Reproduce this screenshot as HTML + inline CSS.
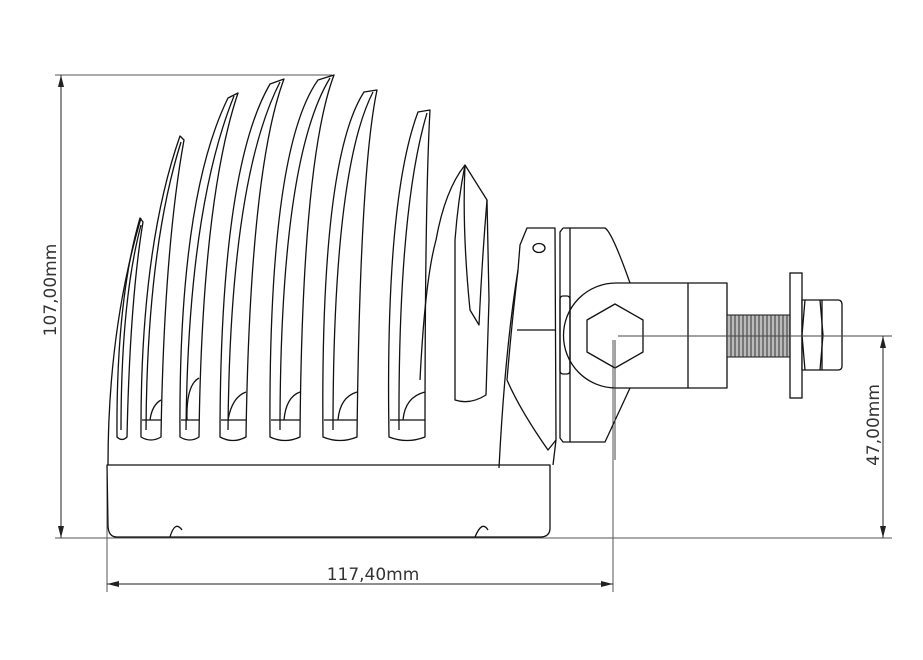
<!DOCTYPE html>
<html><head><style>
html,body{margin:0;padding:0;background:#fff;}
svg{display:block;}
text{font-family:"DejaVu Sans","Liberation Sans",sans-serif;font-size:17px;fill:#333;}
</style></head><body>
<svg width="923" height="660" viewBox="0 0 923 660" xmlns="http://www.w3.org/2000/svg">
<defs>
<marker id="ar" markerWidth="12" markerHeight="6" refX="12" refY="3" orient="auto" markerUnits="userSpaceOnUse">
<path d="M0,0 L12,3 L0,6 Z" fill="#222"/></marker>
</defs>
<g stroke="#555" stroke-width="1" fill="none">
<line x1="55" y1="75" x2="332" y2="75"/>
<line x1="55" y1="538" x2="892" y2="538"/>
<line x1="107" y1="470" x2="107" y2="592"/>
<line x1="613" y1="340" x2="613" y2="592"/>
</g>
<g stroke="#222" stroke-width="1" fill="none">
<line x1="61" y1="538" x2="61" y2="75" marker-end="url(#ar)"/>
<line x1="61" y1="75" x2="61" y2="538" marker-end="url(#ar)"/>
<line x1="613" y1="584" x2="107" y2="584" marker-end="url(#ar)"/>
<line x1="107" y1="584" x2="613" y2="584" marker-end="url(#ar)"/>
<line x1="883" y1="538" x2="883" y2="336" marker-end="url(#ar)"/>
<line x1="883" y1="336" x2="883" y2="538" marker-end="url(#ar)"/>
</g>
<text x="50" y="290" text-anchor="middle" transform="rotate(-90 50 290)" dy="6">107,00mm</text>
<text x="873" y="425" text-anchor="middle" transform="rotate(-90 873 425)" dy="6">47,00mm</text>
<text x="373" y="580" text-anchor="middle">117,40mm</text>

<g stroke="#111" stroke-width="1.3" fill="none" stroke-linejoin="round">
<!-- base -->
<path d="M107,465 L550,465 L550,528 Q550,537 540,537 L117,537 Q108,537 108,525 Z"/>
<path d="M170,537 Q175,520 182,530"/>
<path d="M475,537 Q482,520 488,530"/>
<!-- outer left curve -->
<path d="M108,465 Q108,330 141,218"/>
<!-- fins -->
<path d="M117,437 Q116,300 140,218 L143,222 Q130,300 127,437 Q122,442 117,437 Z"/>
<path d="M121,430 Q121,300 141,225"/>
<path d="M141,437 Q140,250 180,136 L184,140 Q164,250 161,437 Q151,443 141,437 Z"/>
<path d="M146,430 Q147,250 181,142"/>
<path d="M180,437 Q178,200 228,98 L238,93 Q202,200 199,437 Q190,443 180,437 Z"/>
<path d="M186,430 Q188,210 234,96"/>
<path d="M220,437 Q220,170 270,84 L284,79 Q250,170 246,437 Q233,444 220,437 Z"/>
<path d="M228,430 Q230,180 280,82"/>
<path d="M270,437 Q268,150 318,80 L334,75 Q302,160 300,437 Q285,444 270,437 Z"/>
<path d="M280,430 Q280,160 330,78"/>
<path d="M323,437 Q320,160 364,92 L377,90 Q360,170 357,437 Q340,444 323,437 Z"/>
<path d="M333,430 Q333,170 373,92"/>
<path d="M389,437 Q385,200 418,112 L430,110 Q425,200 425,437 Q407,444 389,437 Z"/>
<path d="M399,430 Q398,210 427,113"/>
<path d="M455,400 L455,240 Q458,200 465,165 L487,200 L489,300 L486,395 Q470,405 455,400 Z"/>
<path d="M465,165 Q462,230 470,310 L479,325 Q482,260 487,200"/>
<path d="M436,240 Q445,190 465,165"/>
<path d="M420,380 Q425,280 436,240"/>
<!-- fin window marks -->
<path d="M150,420 Q152,405 161,400 M187,420 Q186,385 199,378 M228,420 Q232,397 246,392 M284,420 Q286,397 300,392 M338,420 Q340,397 357,392 M403,420 Q405,397 425,392"/>
<path d="M142,420 L161,420 M181,420 L199,420 M221,420 L246,420 M271,420 L300,420 M324,420 L357,420 M390,420 L425,420"/>
<!-- right side profile -->
<path d="M507,380 Q512,320 518,270 L520,245 L527,228 L555,228 L556,440 L548,450 Q520,410 507,380"/>
<path d="M517,330 L555,330"/>
<ellipse cx="539" cy="248" rx="6" ry="4.5"/>
<path d="M499,468 Q505,350 518,270"/>
<path d="M553,465 L556,440"/>
<!-- block -->
<path d="M563,228 L605,228 Q612,232 630,283 M563,228 L560,232 L560,438 L563,442 L605,442 L630,388"/>
<path d="M570,228 L570,442"/>
<path d="M668,283 L727,283 L727,388 L668,388 L616,388 A52.5,52.5 0 0 1 616,283 Z"/>
<line x1="688" y1="283" x2="688" y2="388"/>
<rect x="560" y="296" width="10" height="78" rx="3"/>
<polygon points="615,304 643,320 643,352 615,368 587,352 587,320"/>
<rect x="727" y="315" width="63" height="42" fill="#bbb" stroke-width="1"/>
</g>
<g stroke="#333" stroke-width="1">
<path d="M731,315v42M735,315v42M739,315v42M743,315v42M747,315v42M751,315v42M755,315v42M759,315v42M763,315v42M767,315v42M771,315v42M775,315v42M779,315v42M783,315v42M787,315v42"/>
</g>
<g stroke="#111" stroke-width="1.3" fill="none">
<rect x="790" y="273" width="12" height="125" fill="#fff"/>
<path d="M802,300 L838,300 Q842,300 842,305 L842,366 Q842,370 838,370 L802,370 Z" fill="#fff"/>
<line x1="822" y1="300" x2="822" y2="370"/>
<path d="M805,300 L802,335 L805,370 M820,300 L823,335 L820,370"/>
</g>
<g stroke="#444" stroke-width="1" fill="none">
<line x1="618" y1="336" x2="892" y2="336"/>
<line x1="615" y1="340" x2="615" y2="460"/>
</g>
</svg>
</body></html>
